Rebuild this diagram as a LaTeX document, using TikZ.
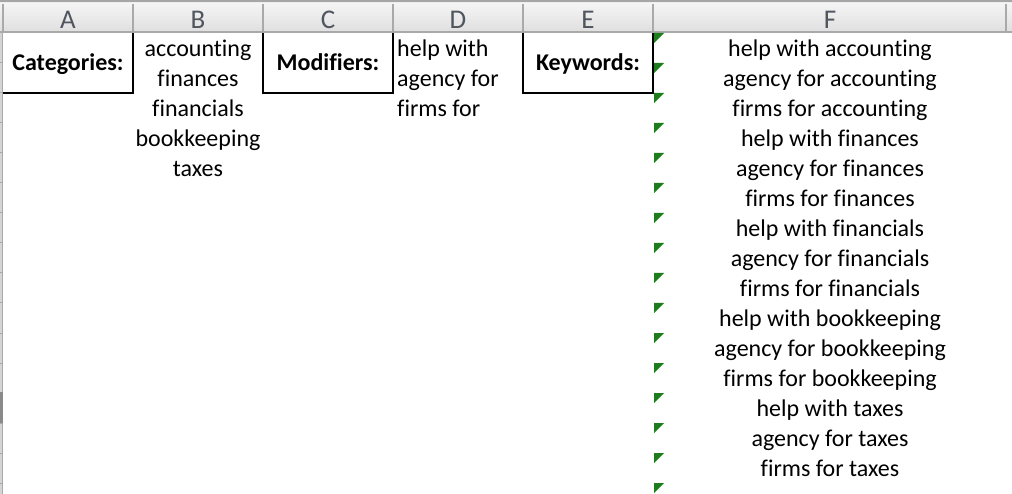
\documentclass[tikz,border=0pt]{standalone}
\usepackage{fontspec}
\setmainfont{Carlito}[Ligatures={NoCommon}]
\definecolor{topline}{HTML}{A6A6A6}
\definecolor{hdlight}{HTML}{EDEDED}
\definecolor{hdtop}{HTML}{F4F4F4}
\definecolor{hdbot}{HTML}{E0E0E0}
\definecolor{hdline}{HTML}{A9A9A9}
\definecolor{hdtext}{HTML}{50565F}
\definecolor{leftstrip}{HTML}{D4D4D4}
\definecolor{leftsel}{HTML}{8A8A8A}
\definecolor{flaggreen}{HTML}{1E7B1E}
\begin{document}
\begin{tikzpicture}[x=1pt,y=-1pt,
  cell/.style={inner sep=0pt, anchor=base, font=\fontsize{24}{28}\selectfont},
  celll/.style={cell, anchor=base west},
  lab/.style={cell, font=\fontsize{24}{28}\selectfont\bfseries},
  colhead/.style={cell, text=hdtext, font=\fontsize{27}{30}\selectfont},
  gridg/.style={draw=hdline, line width=1.5pt},
  boxline/.style={draw=black, line width=1.6pt},
  flag/.style={fill=flaggreen}]
\useasboundingbox (0,0) rectangle (1012,494);
\fill[white] (0,0) rectangle (1012,494);
% header band
\fill[topline] (0,0) rectangle (1012,2);
\fill[hdlight] (0,2) rectangle (1012,4);
\shade[top color=hdtop,bottom color=hdbot] (0,4) rectangle (1012,31);
\fill[hdline] (0,31) rectangle (1012,33);
\foreach \xx in {3,133,263,393,523,653,1006} \draw[gridg] (\xx,4) -- (\xx,33);
% left strip
\fill[leftstrip] (0,33) rectangle (3,494);
\draw[draw=hdline, line width=1pt] (2.5,33) -- (2.5,494);
\foreach \yy in {63,93,...,483} \draw[draw=hdline, line width=1pt] (0,\yy) -- (3,\yy);
\fill[leftsel] (0,392) rectangle (3,423);
% column letters
\node[colhead] (hA) at (68,29) {A};
\node[colhead] (hB) at (198,29) {B};
\node[colhead] (hC) at (328,29) {C};
\node[colhead] (hD) at (458,29) {D};
\node[colhead] (hE) at (588,29) {E};
\node[colhead] (hF) at (830,29) {F};
% boxes
\draw[boxline] (3,93) -- (133,93) -- (133,33);
\draw[boxline] (263,33) -- (263,93) -- (393,93) -- (393,33);
\draw[boxline] (523,33) -- (523,93) -- (653,93) -- (653,33);
% labels
\node[lab] (cat) at (68,71) {Categories:};
\node[lab] (mod) at (328,71) {Modifiers:};
\node[lab] (key) at (588,71) {Keywords:};
% column B
\node[cell] (b1) at (198,56.5) {accounting};
\node[cell] (b2) at (198,86.5) {finances};
\node[cell] (b3) at (198,116.5) {financials};
\node[cell] (b4) at (198,146.5) {bookkeeping};
\node[cell] (b5) at (198,176.5) {taxes};
% column D
\node[celll] (d1) at (397,56.5) {help with};
\node[celll] (d2) at (397,86.5) {agency for};
\node[celll] (d3) at (397,116.5) {firms for};
% column F
\foreach \t [count=\i from 0] in {help with accounting,agency for accounting,firms for accounting,help with finances,agency for finances,firms for finances,help with financials,agency for financials,firms for financials,help with bookkeeping,agency for bookkeeping,firms for bookkeeping,help with taxes,agency for taxes,firms for taxes}
  \node[cell] (f\i) at (830,56.5+30*\i) {\t};
% error flags
\foreach \k in {0,...,15}
  \fill[flag] (654,33+30*\k) -- (664,33+30*\k) -- (654,43+30*\k) -- cycle;
\end{tikzpicture}
\end{document}
